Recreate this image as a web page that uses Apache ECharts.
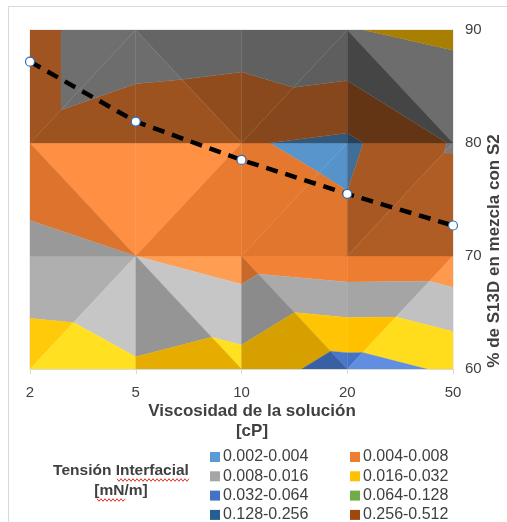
<!DOCTYPE html>
<html>
<head>
<meta charset="utf-8">
<script src="https://cdn.jsdelivr.net/npm/echarts@6/dist/echarts.min.js"></script>
<style>
  html, body { margin: 0; padding: 0; background: #fff; }
  #chart { width: 507px; height: 522px; }
</style>
</head>
<body>
<div id="chart"></div>
<script>
// Viscosity categories (cP) along the horizontal axis
const viscosity = ['2', '5', '10', '20', '50'];
// S13D share in the S2 blend (%), one row of the surface per level
const s13dLevels = [60, 70, 80, 90];
// Interfacial tension (mN/m) at each node: rows follow s13dLevels, columns follow viscosity
const tension60 = [0.0260, 0.0174, 0.0210, 0.0440, 0.0288];
const tension70 = [0.0088, 0.0080, 0.0058, 0.0048, 0.0049];
const tension80 = [0.0065, 0.0046, 0.0042, 0.0035, 0.0084];
const tension90 = [0.0065, 0.0132, 0.0117, 0.0156, 0.0184];
// S13D fraction of the blend for each viscosity (dashed curve)
const blendS13D = [87.2, 81.9, 78.5, 75.5, 72.7];
// Contour bands of interfacial tension (mN/m)
const bandEdges = [0.002, 0.004, 0.008, 0.016, 0.032, 0.064, 0.128, 0.256, 0.512];
const bandLabels = ['0.002-0.004', '0.004-0.008', '0.008-0.016', '0.016-0.032',
                    '0.032-0.064', '0.064-0.128', '0.128-0.256', '0.256-0.512'];
const yTicks = [60, 70, 80, 90];

// ---- styling ----
const bandColors = ['#5B9BD5', '#ED7D31', '#A5A5A5', '#FFC000',
                    '#4472C4', '#70AD47', '#255E91', '#9E480E'];
// lighting factor of each facet: [upper triangle, lower triangle] per cell,
// cell rows bottom to top (60-70, 70-80, 80-90), columns left to right
const facetShade = [
  [[1.04, 1.13], [1.13, 0.90], [1.02, 0.84], [1.00, 1.11]],
  [[1.07, 0.93], [1.08, 0.98], [0.96, 0.95], [0.71, 0.74]],
  [[0.67, 0.66], [0.61, 0.66], [0.58, 0.57], [0.66, 0.42]]
];
const FONT = '"Liberation Sans", Arial, sans-serif';
const TEXT = '#404040';

function shadeColor(hex, s) {
  const n = parseInt(hex.slice(1), 16);
  const ch = [(n >> 16) & 255, (n >> 8) & 255, n & 255].map(c => {
    const v = s <= 1 ? c * s : c + (s - 1) * 255;
    return Math.max(0, Math.min(255, Math.round(v)));
  });
  return 'rgb(' + ch.join(',') + ')';
}

// ---- contour bands from the node grid (log2 interpolation on triangles) ----
const grid = [tension60, tension70, tension80, tension90];
const lg = v => Math.log2(v);

function clipPoly(poly, keep) {
  const out = [];
  for (let i = 0; i < poly.length; i++) {
    const cur = poly[i], prev = poly[(i + poly.length - 1) % poly.length];
    const dc = keep(cur.t), dp = keep(prev.t);
    const cross = () => {
      const f = dp / (dp - dc);
      return { x: prev.x + f * (cur.x - prev.x), y: prev.y + f * (cur.y - prev.y), t: prev.t + f * (cur.t - prev.t) };
    };
    if (dc >= 0) {
      if (dp < 0) out.push(cross());
      out.push(cur);
    } else if (dp >= 0) {
      out.push(cross());
    }
  }
  return out;
}

const pieces = [];
for (let r = 0; r < s13dLevels.length - 1; r++) {
  for (let c = 0; c < viscosity.length - 1; c++) {
    const node = (cc, rr) => ({ x: cc, y: s13dLevels[rr], t: lg(grid[rr][cc]) });
    const TL = node(c, r + 1), TR = node(c + 1, r + 1), BL = node(c, r), BR = node(c + 1, r);
    let tris;
    if (TL.t + BR.t >= BL.t + TR.t) {
      tris = [[TL, TR, BR], [TL, BR, BL]];
    } else {
      tris = [[TL, TR, BL], [TR, BR, BL]];
    }
    tris.forEach((tri, k) => {
      const s = facetShade[r][c][k];
      for (let b = 0; b < bandColors.length; b++) {
        const lo = lg(bandEdges[b]), hi = lg(bandEdges[b + 1]);
        let p = clipPoly(tri, t => t - lo);
        if (p.length < 3) continue;
        p = clipPoly(p, t => hi - t);
        if (p.length < 3) continue;
        pieces.push({ pts: p, color: shadeColor(bandColors[b], s) });
      }
    });
  }
}

const chart = echarts.init(document.getElementById('chart'), null, { renderer: 'canvas' });

// ---- legend and titles ----
const graphics = [
  { type: 'rect', silent: true, z: 0, shape: { x: 8.5, y: 6.5, width: 620, height: 620 },
    style: { fill: 'none', stroke: '#D9D9D9', lineWidth: 1 } },
  { type: 'text', x: 252, y: 411, style: { text: 'Viscosidad de la solución', font: 'bold 17px ' + FONT,
    fill: TEXT, align: 'center', verticalAlign: 'middle' } },
  { type: 'text', x: 252, y: 431, style: { text: '[cP]', font: 'bold 17px ' + FONT,
    fill: TEXT, align: 'center', verticalAlign: 'middle' } },
  { type: 'text', x: 494, y: 251, rotation: Math.PI / 2, style: { text: '% de S13D en mezcla con S2',
    font: 'bold 17px ' + FONT, fill: TEXT, align: 'center', verticalAlign: 'middle' } },
  { type: 'text', x: 121, y: 471, style: { text: 'Tensión Interfacial', font: 'bold 15.5px ' + FONT,
    fill: TEXT, align: 'center', verticalAlign: 'middle' } },
  { type: 'text', x: 121, y: 491, style: { text: '[mN/m]', font: 'bold 15.5px ' + FONT,
    fill: TEXT, align: 'center', verticalAlign: 'middle' } }
];
// spell-check underline marks
function squiggle(x0, x1, y) {
  const pts = [];
  for (let x = x0, i = 0; x <= x1; x += 2, i++) pts.push([x, y + (i % 2 ? 1.3 : -1.3)]);
  return { type: 'polyline', silent: true, shape: { points: pts }, style: { stroke: '#E0302A', lineWidth: 1, fill: null } };
}
graphics.push(squiggle(117, 190, 480));
graphics.push(squiggle(97, 125, 500));

bandLabels.forEach((lab, i) => {
  const col = i % 2, row = Math.floor(i / 2);
  const x = col === 0 ? 210 : 350;
  const y = 457 + row * 19.3;
  graphics.push({ type: 'rect', silent: true, shape: { x: x, y: y - 5, width: 10, height: 10 },
    style: { fill: bandColors[i] } });
  graphics.push({ type: 'text', x: x + 13, y: y, style: { text: lab, font: '16px ' + FONT, fill: TEXT,
    align: 'left', verticalAlign: 'middle' } });
});

const option = {
  animation: false,
  backgroundColor: '#fff',
  grid: { left: 30, right: 54, top: 30, bottom: 153, show: true, borderColor: '#D9D9D9',
          borderWidth: 1, backgroundColor: 'transparent' },
  xAxis: {
    type: 'value', min: 0, max: viscosity.length - 1, interval: 1,
    axisLine: { show: true, lineStyle: { color: '#D9D9D9' } },
    axisTick: { show: true, length: 5, lineStyle: { color: '#D9D9D9' } },
    splitLine: { show: false },
    axisLabel: { formatter: v => viscosity[Math.round(v)], color: TEXT, fontSize: 15,
                 fontFamily: FONT, margin: 16 }
  },
  yAxis: {
    type: 'value', position: 'right', min: yTicks[0], max: yTicks[yTicks.length - 1], interval: 10,
    axisLine: { show: true, lineStyle: { color: '#D9D9D9' } },
    axisTick: { show: true, length: 5, lineStyle: { color: '#D9D9D9' } },
    splitLine: { show: false },
    axisLabel: { color: TEXT, fontSize: 15, fontFamily: FONT, margin: 12 }
  },
  series: [
    {
      type: 'custom',
      silent: true,
      clip: true,
      z: 1,
      encode: { x: 0, y: 1 },
      data: pieces.map((p, k) => [p.pts[0].x, p.pts[0].y, k]),
      renderItem: function (params, api) {
        const p = pieces[api.value(2)];
        return {
          type: 'polygon',
          shape: { points: p.pts.map(q => api.coord([q.x, q.y])) },
          style: { fill: p.color, stroke: p.color, lineWidth: 0.3 }
        };
      }
    },
    {
      type: 'line',
      z: 5,
      data: blendS13D.map((v, i) => [i, v]),
      symbol: 'circle',
      symbolSize: 9,
      lineStyle: { color: '#000', width: 4.5, type: [12, 8], cap: 'butt' },
      itemStyle: { color: '#fff', borderColor: '#2F6EBA', borderWidth: 1.2 }
    }
  ],
  graphic: graphics
};
chart.setOption(option);
</script>
</body>
</html>
